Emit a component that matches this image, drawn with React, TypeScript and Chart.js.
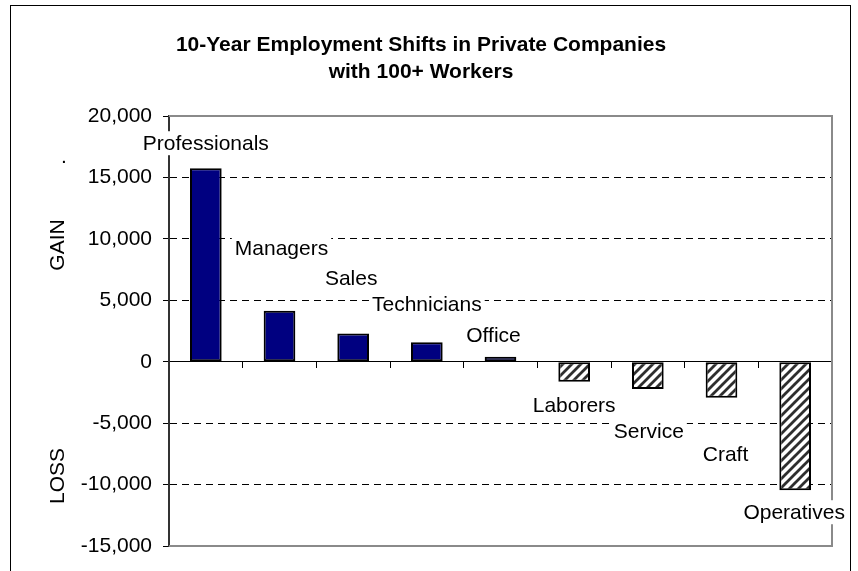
import React, { useEffect, useRef } from 'react';
import { Chart, registerables } from 'chart.js';

Chart.register(...registerables);

const categories = ['Professionals', 'Managers', 'Sales', 'Technicians', 'Office', 'Laborers', 'Service', 'Craft', 'Operatives'];
const shifts = [15750, 4150, 2300, 1580, 400, -1630, -2220, -2930, -10460];
const yMin = -15000;
const yMax = 20000;
const yStep = 5000;
const titleLines = ['10-Year Employment Shifts in Private Companies', 'with 100+ Workers'];
const gainLabel = 'GAIN';
const lossLabel = 'LOSS';
// label placement offsets (px) relative to each bar's end
const labelOffsets: [number, number][] = [[0, -25], [2, -63], [-2, -55], [0, -38], [-7, -22], [0, 23], [1, 42], [4, 56], [-1, 22]];

const FONT = "'Liberation Sans', Arial, sans-serif";

function makeHatch(): CanvasPattern | string {
  const s = 9;
  const c = document.createElement('canvas');
  c.width = s;
  c.height = s;
  const g = c.getContext('2d');
  if (!g) return '#888';
  g.fillStyle = '#ffffff';
  g.fillRect(0, 0, s, s);
  g.strokeStyle = '#2e2e2e';
  g.lineWidth = 2.8;
  g.beginPath();
  g.moveTo(0, s); g.lineTo(s, 0);
  g.moveTo(-2, 2); g.lineTo(2, -2);
  g.moveTo(s - 2, s + 2); g.lineTo(s + 2, s - 2);
  g.stroke();
  const p = g.createPattern(c, 'repeat');
  return p || '#888';
}

const decorPlugin = {
  id: 'decor',
  afterDraw(chart: any) {
    const ctx = chart.ctx as CanvasRenderingContext2D;
    const area = chart.chartArea;
    const xs = chart.scales.x;
    const ys = chart.scales.y;
    ctx.save();
    // outer frame
    ctx.strokeStyle = '#000';
    ctx.lineWidth = 1;
    ctx.strokeRect(10.5, 5.5, 840, 620);
    // plot frame (top, right, bottom)
    ctx.strokeStyle = '#8a8a8a';
    ctx.lineWidth = 2;
    ctx.beginPath();
    ctx.moveTo(area.left, area.top);
    ctx.lineTo(area.right, area.top);
    ctx.lineTo(area.right, area.bottom);
    ctx.lineTo(area.left, area.bottom);
    ctx.stroke();
    // title
    ctx.fillStyle = '#000';
    ctx.font = `bold 21px ${FONT}`;
    ctx.textAlign = 'center';
    ctx.textBaseline = 'middle';
    ctx.fillText(titleLines[0], 421, 45);
    ctx.fillText(titleLines[1], 421, 72);
    // axis side labels
    ctx.font = `21px ${FONT}`;
    ctx.save();
    ctx.translate(58, 245);
    ctx.rotate(-Math.PI / 2);
    ctx.fillText(gainLabel, 0, 0);
    ctx.restore();
    ctx.save();
    ctx.translate(58, 476);
    ctx.rotate(-Math.PI / 2);
    ctx.fillText(lossLabel, 0, 0);
    ctx.restore();
    ctx.textBaseline = 'alphabetic';
    ctx.fillText('.', 64, 163);
    // data labels
    ctx.font = `21px ${FONT}`;
    ctx.textBaseline = 'middle';
    categories.forEach((name, i) => {
      const v = shifts[i];
      const x = xs.getPixelForValue(i) + labelOffsets[i][0];
      const y = ys.getPixelForValue(v) + labelOffsets[i][1];
      const w = ctx.measureText(name).width;
      ctx.fillStyle = '#fff';
      ctx.fillRect(x - w / 2 - 3, y - 12, w + 6, 24);
      ctx.fillStyle = '#000';
      ctx.fillText(name, x, y + 1);
    });
    ctx.restore();
  },
};

export default function App() {
  const ref = useRef<HTMLCanvasElement | null>(null);
  useEffect(() => {
    if (!ref.current) return;
    const hatch = makeHatch();
    const chart = new Chart(ref.current, {
      type: 'bar',
      data: {
        labels: categories,
        datasets: [
          {
            data: shifts,
            backgroundColor: shifts.map((v) => (v >= 0 ? '#000080' : hatch)) as any,
            borderColor: '#000',
            borderWidth: 2,
            borderSkipped: false,
            barPercentage: 0.43,
            categoryPercentage: 1,
          },
        ],
      },
      options: {
        animation: false,
        responsive: false,
        layout: { padding: { left: 0, top: 116, right: 26, bottom: 25 } },
        plugins: { legend: { display: false }, tooltip: { enabled: false }, title: { display: false } },
        scales: {
          x: {
            type: 'category',
            position: { y: 0 } as any,
            afterFit: (s: any) => { s.height = 0; },
            grid: { offset: true, drawOnChartArea: false, drawTicks: true, tickLength: 6, color: '#000', lineWidth: 1 },
            border: { color: '#000', width: 1 },
            ticks: { display: false },
          },
          y: {
            min: yMin,
            max: yMax,
            afterFit: (s: any) => { s.width = 169; },
            ticks: {
              stepSize: yStep,
              padding: 11,
              color: '#000',
              font: { family: FONT, size: 21 },
              callback: (v: any) => Number(v).toLocaleString('en-US'),
            },
            grid: {
              color: (c: any) => {
                const v = c.tick ? c.tick.value : null;
                return v === yMax || v === yMin || v === 0 ? 'rgba(0,0,0,0)' : '#000';
              },
              tickColor: '#000',
              tickLength: 6,
              lineWidth: 1,
              tickBorderDash: [],
            } as any,
            border: { color: '#333', width: 2, dash: [7, 5] },
          },
        },
      },
      plugins: [decorPlugin],
    });
    return () => chart.destroy();
  }, []);
  return (
    <div style={{ position: 'absolute', left: 0, top: 0, width: 858, height: 571, background: '#fff' }}>
      <canvas ref={ref} width={858} height={571} style={{ display: 'block' }} />
    </div>
  );
}
